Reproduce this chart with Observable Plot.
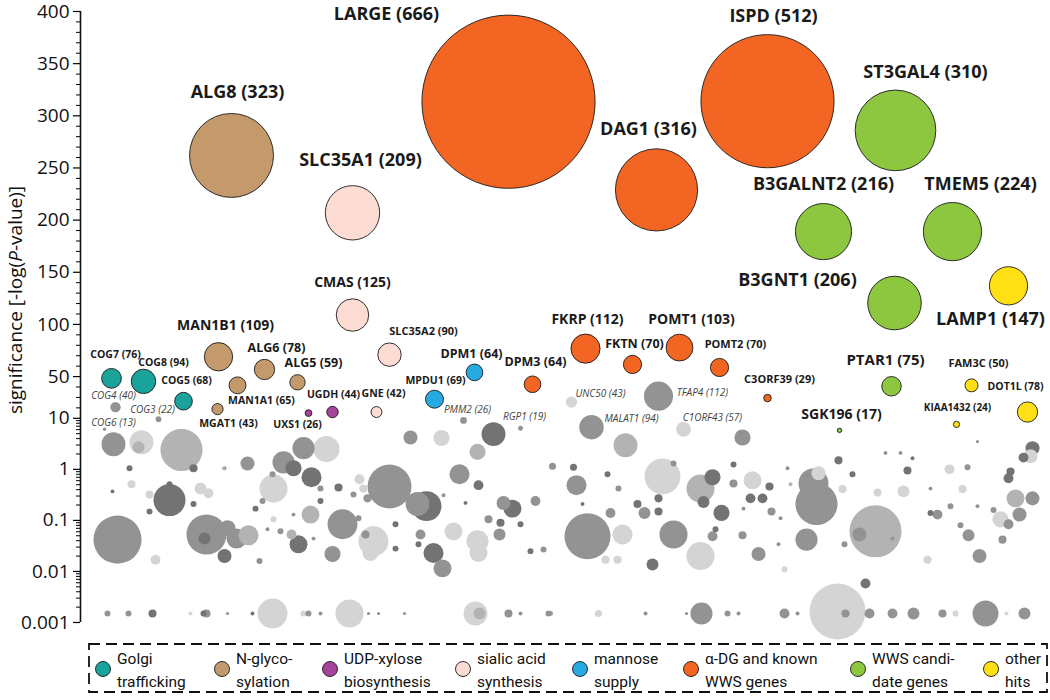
<!DOCTYPE html>
<html><head><meta charset="utf-8">
<script src="https://cdn.jsdelivr.net/npm/d3@7"></script>
<script src="https://cdn.jsdelivr.net/npm/@observablehq/plot@0.6"></script>
<style>
body{margin:0;background:#fff;}
#wrap{position:relative;width:1050px;height:700px;}
#legend{position:absolute;left:0;top:0;}
</style></head>
<body><div id="wrap"></div>
<script>
// ---- data ----
const categories = ["Golgi trafficking","N-glycosylation","UDP-xylose biosynthesis","sialic acid synthesis","mannose supply","α-DG and known WWS genes","WWS candidate genes","other hits"];
const legendLines = [["Golgi","trafficking"],["N-glyco-","sylation"],["UDP-xylose","biosynthesis"],["sialic acid","synthesis"],["mannose","supply"],["α-DG and known","WWS genes"],["WWS candi-","date genes"],["other","hits"]];
const catColors = ["#1aa39a","#c49a6c","#a5449a","#fcdcd3","#27aae1","#f26522","#8dc63f","#fee015"];
const greyShades = ["#d4d4d4","#b3b3b3","#939393","#737373"];

const majorTicks = [400,350,300,250,200,150,100,50,10,1,0.1,0.01,0.001];
const majorLabels = ["400","350","300","250","200","150","100","50","10","1","0.1","0.01","0.001"];

// [gene, category index, genome index, significance, count]
const hits = [
 ["LARGE",5,428,313.5,666],["ISPD",5,687,314,512],["DAG1",5,576,229,316],
 ["ALG8",1,151,262,323],["SLC35A1",3,272,207,209],["ST3GAL4",6,815,286,310],
 ["B3GALNT2",6,743,189,216],["TMEM5",6,872,189,224],["B3GNT1",6,814,120.5,206],
 ["LAMP1",7,928,137,147],["CMAS",3,272,109,125],["SLC35A2",3,309,71,90],
 ["MAN1B1",1,138,69,109],["ALG6",1,184,56.8,78],["ALG5",1,217,44.5,59],
 ["MAN1A1",1,157,41.6,65],["MGAT1",1,137,18.8,43],["COG7",0,31,48.3,76],
 ["COG8",0,63,45.4,94],["COG5",0,103,26.4,68],["UGDH",2,252,16,44],
 ["UXS1",2,228,15,26],["GNE",3,296,16,42],["DPM1",4,394,54,64],
 ["MPDU1",4,354,28.3,69],["DPM3",5,452,42.6,64],["FKRP",5,505,76.8,112],
 ["FKTN",5,552,61.6,70],["POMT1",5,599,77.8,103],["POMT2",5,639,58.7,70],
 ["C3ORF39",5,687,29.4,29],["PTAR1",6,811,40.7,75],["SGK196",6,759,5.8,17],
 ["FAM3C",7,891,41.6,50],["DOT1L",7,947,16,78],["KIAA1432",7,876,7.6,24]
];
// named non-hit genes: [gene, genome index, significance, count, shade]
const namedOthers = [
 ["COG4",35,20.7,40,2],["COG3",78,9.6,22,2],["COG6",24,6.1,13,2],["PMM2",383,9.1,26,2],
 ["RGP1",440,6.4,19,2],["UNC50",491,25.5,43,0],["TFAP4",578,31.2,112,2],
 ["MALAT1",511,6.7,94,2],["C1ORF43",603,6.1,57,0]
];
// background genes: [genome index, significance, count, shade]
const background = [
 [33,3.1,92,2],[61,3.4,92,0],[58,2.7,46,1],[101,2.4,162,1],[97,1.7,31,1],[113,1.05,31,3],
 [49,1.05,23,3],[51,0.51,31,0],[89,0.25,123,3],[69,0.32,31,0],[37,0.042,185,2],[126,0.053,154,2],
 [124,0.044,46,3],[156,0.044,77,2],[168,0.051,77,1],[218,0.034,69,3],[203,1.37,85,2],[213,1.05,62,3],
 [223,2.6,85,2],[246,2.5,100,0],[231,0.70,77,3],[193,0.42,108,0],[167,1.3,54,2],[230,0.13,69,1],
 [262,0.084,115,2],[309,0.46,169,2],[330,4.2,54,2],[337,0.21,92,2],[128,0.34,38,0],[120,0.42,46,0],
 [113,0.21,23,3],[147,0.070,62,2],[182,0.24,23,2],[240,0.42,23,2],[273,0.32,23,2],[287,0.27,31,2],
 [293,0.039,115,0],[252,0.022,62,2],[75,0.017,38,0],[144,0.020,54,3],[179,0.016,23,2],
 [362,0.0115,69,2],[290,0.023,62,0],[398,0.023,69,0],
 [27,0.0015,23,2],[48,0.0015,23,2],[72,0.0015,31,3],[110,0.0015,15,0],[126,0.0015,31,2],[123,0.0015,23,3],
 [147,0.0015,12,2],[172,0.0015,15,3],[192,0.0015,115,0],[223,0.0015,23,0],[228,0.0015,23,2],[240,0.0015,15,2],
 [269,0.0015,108,0],[288,0.0015,12,2],[298,0.0015,12,2],[324,0.0015,12,2],[395,0.0015,92,0],[399,0.0015,46,1],
 [428,0.0015,31,2],[440,0.0015,15,2],[468,0.0015,23,2],[470,0.0015,19,2],[518,0.0015,27,0],[565,0.0015,15,2],
 [606,0.0015,12,2],[621,0.0015,85,2],[647,0.0015,23,2],[658,0.0015,15,2],[704,0.0015,38,2],[717,0.0015,15,2],
 [757,0.00164,215,0],[765,0.0015,31,2],[789,0.0015,38,2],[812,0.0015,38,2],[833,0.0015,46,2],[862,0.0015,31,2],
 [875,0.0015,23,0],[905,0.0015,100,2],[926,0.0015,15,0],[944,0.0015,46,2],
 [572,0.0137,46,3],[620,0.020,108,0],[785,0.0058,38,3],[525,0.017,31,0],[537,0.017,31,0],[678,0.022,54,2],
 [899,0.020,54,2],[847,0.017,31,0],[704,0.011,23,0],
 [361,4.1,62,0],[397,2.2,62,1],[413,4.9,92,3],[379,0.80,77,2],[398,0.49,38,3],[346,0.19,115,3],
 [423,0.22,54,2],[432,0.17,69,3],[373,0.061,69,0],[397,0.039,85,0],[353,0.023,77,3],[419,0.053,46,2],
 [455,0.24,38,2],[472,1.15,27,2],[493,1.1,27,3],[496,0.49,77,2],[545,2.96,92,1],[582,0.73,138,0],
 [620,0.42,108,1],[632,0.70,62,3],[623,0.23,46,3],[662,4.2,62,2],[641,0.14,62,3],[593,0.053,108,2],
 [578,0.27,31,3],[564,0.14,46,2],[557,0.21,31,3],[530,0.14,38,2],[542,0.053,77,0],[507,0.049,177,2],
 [653,1.25,23,3],[672,0.61,69,0],[653,0.53,31,2],[689,0.46,31,3],[670,0.27,38,3],[682,0.27,38,3],
 [691,0.15,31,2],[733,0.53,115,2],[736,0.21,162,2],[738,0.84,54,0],[758,1.5,31,3],[772,0.80,23,3],
 [762,0.41,31,0],[795,0.061,200,1],[779,0.053,54,2],[827,0.95,31,3],[797,0.35,31,0],[823,0.37,46,0],
 [869,1.0,38,0],[887,1.1,23,2],[882,0.41,31,0],[857,0.13,38,2],[880,0.080,23,2],[888,0.051,46,2],
 [952,2.6,54,3],[943,1.7,38,3],[950,1.8,54,0],[928,0.67,38,3],[930,0.91,31,3],[935,0.27,69,1],
 [952,0.27,54,2],[939,0.13,54,2],[920,0.105,62,0],[928,0.084,38,2],[922,0.042,31,2],[726,0.042,85,2],
 [632,0.049,38,2],[662,0.051,31,2],
 [143,1.05,12,1],[89,0.51,23,3],[32,0.37,15,3],[69,0.15,23,3],[175,0.17,23,3],[193,0.105,23,0],
 [187,0.067,15,2],[200,0.061,23,2],[211,0.053,38,1],[233,0.044,15,2],[278,0.11,23,2],[285,0.053,31,2],
 [315,0.084,23,3],[315,0.028,23,3],[340,0.053,38,2],[338,0.034,23,3],[258,0.44,31,3],[283,0.42,31,0],
 [279,0.64,38,0],[192,0.80,23,2],[144,1.05,15,2],[240,0.24,23,3],[213,0.13,15,2],
 [363,0.31,15,2],[385,0.22,15,3],[408,0.105,31,2],[420,0.09,31,3],[440,0.084,23,3],[450,0.025,23,3],
 [463,0.027,23,2],[502,0.21,15,3],[527,0.80,23,3],[538,0.42,23,2],[578,0.15,31,3],[593,1.3,23,2],
 [635,0.067,23,3],[707,1.05,15,2],[710,0.51,15,1],[663,0.17,15,2],[700,0.11,15,2],[820,2.1,15,2],
 [832,1.65,15,3],[850,0.42,15,2],[850,0.14,23,3],[870,0.19,23,2],[897,0.19,15,2],[913,0.16,23,2],
 [812,0.044,15,2],[764,0.034,23,2],[698,0.034,15,2],[805,2.1,15,2],[897,3.5,12,2]
];

// ---- layout (label offsets in px, font size, style) ----
const labelLayout = [
 ["LARGE",-122,-87,18,"b"],["ISPD",6,-85,18,"b"],["DAG1",-8,-61,18,"b"],["ALG8",6,-63,18,"b"],
 ["SLC35A1",8,-53,18,"b"],["ST3GAL4",30,-58,18,"b"],["B3GALNT2",0,-47,18,"b"],["TMEM5",28,-47,18,"b"],
 ["B3GNT1",-97,-23,18,"b"],["LAMP1",-18,33,18,"b"],["CMAS",0,-32,14,"b"],["SLC35A2",34,-23,11,"b"],
 ["MAN1B1",7,-31,14,"b"],["ALG6",12,-21,12.5,"b"],["ALG5",16,-19,12.5,"b"],["MAN1A1",24,15,10.5,"b"],
 ["MGAT1",11,14,10.5,"b"],["COG7",4,-24,10.5,"b"],["COG8",20,-19,10.5,"b"],["COG5",3,-21,10.5,"b"],
 ["UGDH",1,-17,10.5,"b"],["UXS1",-11,12,10.5,"b"],["GNE",7,-18,10.5,"b"],["DPM1",-3,-18,12.5,"b"],
 ["MPDU1",1,-19,10.5,"b"],["DPM3",3,-22,12.5,"b"],["FKRP",2,-29,14,"b"],["FKTN",2,-20,12.5,"b"],
 ["POMT1",12,-28,14,"b"],["POMT2",16,-23,11,"b"],["C3ORF39",12,-19,11,"b"],["PTAR1",-6,-26,15,"b"],
 ["SGK196",2,-16,14,"b"],["FAM3C",7,-22,11,"b"],["DOT1L",-12,-25,10.5,"b"],["KIAA1432",1,-17,10,"b"],
 ["COG4",-2,-11,10,"i"],["COG3",-6,-9,10,"i"],["COG6",9,-6,10,"i"],["PMM2",4,-11,10,"i"],
 ["RGP1",4,-11,10,"i"],["UNC50",29,-8,10,"i"],["TFAP4",44,-3,10,"i"],["MALAT1",40,-8,10,"i"],
 ["C1ORF43",29,-11,10,"i"]
];
const legendX = [103,222,330,463,580,691,858,991];

// ---- scale helpers: linear above 10, log below 10 (same px per unit) ----
const PX_PER_UNIT = 1.042, PX_PER_DECADE = 51;
const K = PX_PER_DECADE / PX_PER_UNIT;
const ty = v => v >= 10 ? v : 10 - (1 - Math.log10(v)) * K;

const hitRows = hits.map(([gene,cat,x,v,n]) => ({gene,cat,x,v,n}));
const otherRows = namedOthers.map(([gene,x,v,n,s]) => ({gene,x,v,n,s}));
const bgRows = background.map(([x,v,n,s]) => ({x,v,n,s}));
const allByGene = new Map();
hitRows.forEach(d => allByGene.set(d.gene, d));
otherRows.forEach(d => allByGene.set(d.gene, d));
const labelRows = labelLayout.map(([gene,dx,dy,size,style]) => {
  const d = allByGene.get(gene);
  return {text: `${gene} (${d.n})`, x: d.x + dx, y: ty(d.v) - dy / PX_PER_UNIT, size, style};
});

const minorTicks = [];
for (let t = 20; t < 400; t += 10) if (t % 50 !== 0) minorTicks.push(t);
for (const e of [-3,-2,-1,0]) for (let m = 2; m <= 9; m++) minorTicks.push(m * Math.pow(10, e));
const labelByT = new Map(majorTicks.map((t,i) => [ty(t), majorLabels[i]]));

const font = "'Open Sans', 'Noto Sans', sans-serif";
const chart = Plot.plot({
  width: 1050, height: 650,
  marginLeft: 80, marginRight: 0, marginTop: 11, marginBottom: 28,
  style: {fontFamily: font, fontSize: "19px", overflow: "visible"},
  x: {domain: [0, 970], axis: null},
  y: {domain: [ty(0.001), 400], axis: null},
  r: {type: "linear", domain: [0, 666], range: [0, 86.6]},
  marks: [
    Plot.axisY({ticks: minorTicks.map(ty), tickSize: 4, tickFormat: () => "", label: null, strokeWidth: 1}),
    Plot.axisY({ticks: majorTicks.map(ty), tickSize: 7, tickPadding: 4, tickFormat: t => labelByT.get(t), label: null, strokeWidth: 1.2, fontSize: 19, fill: "#111"}),
    Plot.ruleX([0], {y1: ty(0.001), y2: 400, stroke: "#111", strokeWidth: 1.6}),
    Plot.dot(bgRows, {x: "x", y: d => ty(d.v), r: "n", fill: d => greyShades[d.s], stroke: null}),
    Plot.dot(otherRows, {x: "x", y: d => ty(d.v), r: "n", fill: d => greyShades[d.s], stroke: null}),
    Plot.dot(hitRows, {x: "x", y: d => ty(d.v), r: "n", fill: d => catColors[d.cat], stroke: "#1a1a1a", strokeWidth: 0.9}),
    Plot.text(labelRows.filter(d => d.style === "b"), {x: "x", y: "y", text: "text", fontSize: "size", fontWeight: "bold", fill: "#1a1a1a", fontFamily: font}),
    Plot.text(labelRows.filter(d => d.style === "i"), {x: "x", y: "y", text: "text", fontSize: "size", fontStyle: "italic", fill: "#444", fontFamily: font})
  ]
});
const wrap = document.getElementById("wrap");
wrap.appendChild(chart);

// y-axis title with italic P
const svg = d3.select(chart);
const title = svg.append("text")
  .attr("transform", "translate(22,300) rotate(-90)")
  .attr("text-anchor", "middle")
  .style("font-family", font).style("font-size", "19px").attr("fill", "#111");
title.append("tspan").text("significance [-log(");
title.append("tspan").attr("font-style", "italic").text("P");
title.append("tspan").text("-value)]");

// legend
const leg = d3.select(wrap).append("svg").attr("id", "legend")
  .attr("width", 1050).attr("height", 700).style("pointer-events", "none");
leg.append("rect").attr("x", 89).attr("y", 644).attr("width", 958).attr("height", 48)
  .attr("fill", "none").attr("stroke", "#111").attr("stroke-width", 1.8).attr("stroke-dasharray", "11,6");
const lfont = "Roboto, 'Liberation Sans', sans-serif";
categories.forEach((c, i) => {
  const g = leg.append("g");
  g.append("circle").attr("cx", legendX[i]).attr("cy", 669).attr("r", 7.5)
    .attr("fill", catColors[i]).attr("stroke", "#1a1a1a").attr("stroke-width", 0.9);
  const t = g.append("text").attr("x", legendX[i] + 14).attr("y", 664)
    .style("font-family", lfont).style("font-size", "15.5px").attr("fill", "#111");
  t.append("tspan").attr("x", legendX[i] + 14).attr("dy", 0).text(legendLines[i][0]);
  t.append("tspan").attr("x", legendX[i] + 14).attr("dy", 23).text(legendLines[i][1]);
});
</script></body></html>
